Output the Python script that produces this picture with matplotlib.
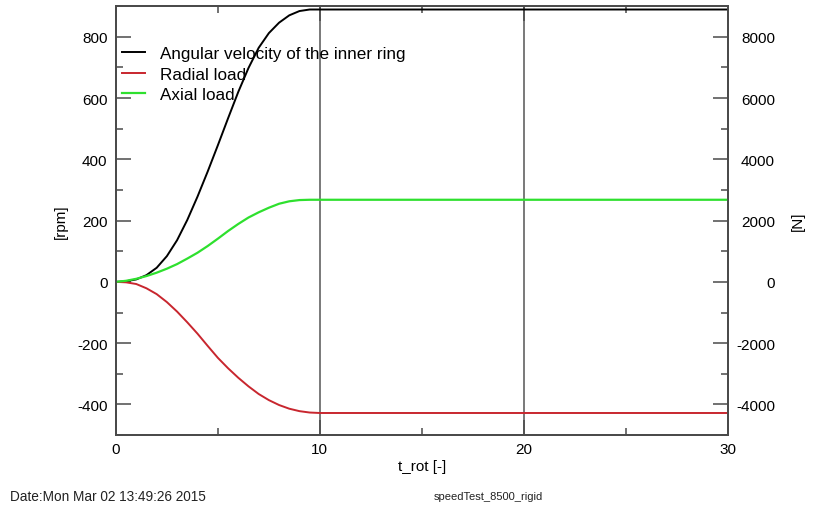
import matplotlib
matplotlib.use("Agg")
import matplotlib.pyplot as plt
from matplotlib.ticker import MultipleLocator

plt.rcParams['font.family'] = ['Liberation Sans', 'DejaVu Sans']
plt.rcParams['axes.unicode_minus'] = False

# time samples [-]
t_rot = [0, 0.5, 1, 1.5, 2, 2.5, 3, 3.5, 4, 4.5, 5, 5.5, 6, 6.5, 7, 7.5, 8, 8.5, 9, 9.5, 10, 20, 30]
# angular velocity of the inner ring [rpm]
omega = [0, 2, 8, 22, 46, 84, 136, 202, 278, 360, 446, 534, 620, 698, 764, 812, 846, 870, 884, 889, 889, 889, 889]
# radial load [N]
radial = [0, -15, -70, -210, -400, -660, -970, -1320, -1690, -2090, -2480, -2820, -3130, -3410, -3660, -3860, -4020, -4140, -4220, -4265, -4280, -4280, -4280]
# axial load [N]
axial = [0, 35, 100, 190, 300, 430, 580, 760, 950, 1170, 1410, 1660, 1890, 2100, 2270, 2420, 2550, 2630, 2670, 2680, 2680, 2680, 2680]

fig = plt.figure(figsize=(8.16, 5.10), dpi=100)
ax = fig.add_axes([0.142, 0.145, 0.750, 0.841])
ax2 = ax.twinx()

spine_col = '#4a4a4a'
for a in (ax, ax2):
    for s in a.spines.values():
        s.set_color(spine_col)
        s.set_linewidth(1.3)

l1, = ax.plot(t_rot, omega, color='black', lw=1.4, label='Angular velocity of the inner ring')
l2, = ax2.plot(t_rot, radial, color='#c8262e', lw=1.4, label='Radial load')
l3, = ax2.plot(t_rot, axial, color='#2ee02e', lw=1.6, label='Axial load')

for xv in (10, 20):
    ax.axvline(xv, color='#555555', lw=1.1, zorder=0)

ax.set_xlim(0, 30)
ax.set_ylim(-500, 900)
ax2.set_ylim(-5000, 9000)

ax.xaxis.set_major_locator(MultipleLocator(10))
ax.xaxis.set_minor_locator(MultipleLocator(5))
ax.yaxis.set_major_locator(MultipleLocator(200))
ax.yaxis.set_minor_locator(MultipleLocator(100))
ax2.yaxis.set_major_locator(MultipleLocator(2000))
ax2.yaxis.set_minor_locator(MultipleLocator(1000))

ax.tick_params(axis='x', which='both', direction='in', top=True, colors=spine_col,
               labelcolor='black', labelsize=11, pad=5)
ax.tick_params(axis='y', which='both', direction='in', colors=spine_col,
               labelcolor='black', labelsize=11, pad=6)
ax2.tick_params(axis='y', which='both', direction='in', colors=spine_col,
                labelcolor='black', labelsize=11, pad=34)
for lbl in ax2.get_yticklabels():
    lbl.set_horizontalalignment('right')
for a in (ax, ax2):
    a.tick_params(which='major', length=11, width=1.1)
    a.tick_params(which='minor', length=5, width=1.1)

ax.set_xlabel('t_rot [-]', fontsize=11, labelpad=2)
ax.set_ylabel('[rpm]', fontsize=11)
ax2.set_ylabel('[N]', fontsize=11)
ax.yaxis.set_label_coords(-0.078, 0.5)
ax2.yaxis.set_label_coords(1.103, 0.5)

ax2.legend(handles=[l1, l2, l3], loc='upper left', bbox_to_anchor=(0.0098, 0.906),
           frameon=False, fontsize=12.3, handlelength=1.35, handletextpad=0.88,
           labelspacing=0.32, borderpad=0, borderaxespad=0)

fig.text(0.012, 0.018, 'Date:Mon Mar 02 13:49:26 2015', fontsize=9.8, color='#222222')
fig.text(0.531, 0.02, 'speedTest_8500_rigid', fontsize=8, color='#222222')

fig.savefig('out.png', dpi=100)
